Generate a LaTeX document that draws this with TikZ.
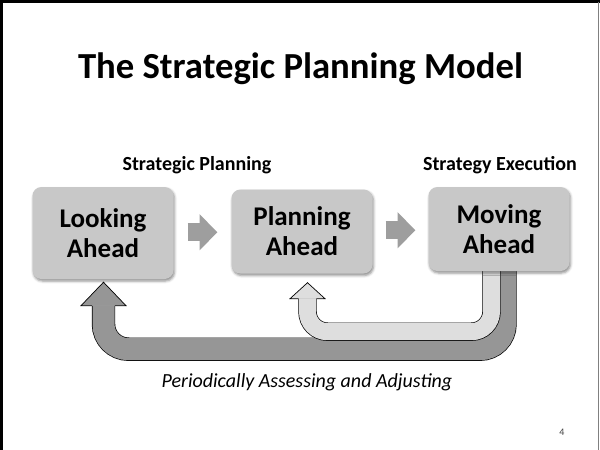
\documentclass[tikz,border=0pt]{standalone}
\usepackage{fontspec}
\setmainfont{Carlito}
\usetikzlibrary{arrows.meta,calc,backgrounds,shadows.blur}

\definecolor{boxgray}{RGB}{200,200,200}
\definecolor{stepgray}{RGB}{158,158,158}
\definecolor{loopdark}{RGB}{150,150,150}
\definecolor{looplight}{RGB}{222,222,222}

\tikzset{
	phase/.style={rounded corners=9pt, fill=boxgray, inner sep=0pt, align=center,
		minimum width=141pt, font=\fontsize{27}{30}\selectfont\bfseries,
		blur shadow={shadow xshift=1pt, shadow yshift=-2pt, shadow blur radius=2.5pt, shadow opacity=45}},
	stepflow/.style={line width=18pt, stepgray, -{Triangle[length=18pt, width=35pt]}},
	feedback/.style 2 args={double=#1, double distance=#2, line width=0.7pt},
	headline/.style={font=\fontsize{20}{24}\selectfont\bfseries, anchor=base},
}

\begin{document}
\begin{tikzpicture}[x=1pt, y=-1pt]
	\useasboundingbox (0,0) rectangle (600,450);
	\draw [line width=3pt] (1.5,450) -- (1.5,1.5) -- (600,1.5);
	\draw [gray, line width=1pt] (598.5,1.5) -- (598.5,450);

	\node [anchor=base, font=\fontsize{36.7}{44}\selectfont\bfseries] (title) at (300.5,78) {The Strategic Planning Model};

	\node [phase, minimum height=92pt] (look) at (103,233) {Looking\\Ahead};
	\node [phase, minimum height=84pt] (plan) at (302,231.5) {Planning\\Ahead};
	\node [phase, minimum height=84pt] (move) at (499,229) {Moving\\Ahead};

	\node [headline] (planlabel) at (197,170) {Strategic Planning};
	\node [headline] (execlabel) at (500,170) {Strategy Execution};

	\coordinate (s1) at ($(look.east)!0.5!(plan.west)$);
	\coordinate (s2) at ($(plan.east)!0.5!(move.west)$);
	\draw [stepflow] ([xshift=-15pt]s1) -- ([xshift=15pt]s1);
	\draw [stepflow] ([xshift=-15pt]s2) -- ([xshift=15pt]s2);

	\begin{scope}[on background layer]
		% long loop back to the first box
		\coordinate (dbase) at ([xshift=0.5pt, yshift=-26.5pt]look.south);
		\coordinate (dtip) at ([xshift=0.5pt, yshift=-3pt]look.south);
		\draw [feedback={loopdark}{22pt}, rounded corners=25pt]
			([xshift=6pt, yshift=8pt]move.south) -- ++(0,86) -| (dbase);
		\filldraw [fill=loopdark, line width=0.7pt] ([xshift=-11.35pt]dbase) -- ([xshift=-22.5pt]dbase)
			-- (dtip) -- ([xshift=22.5pt]dbase) -- ([xshift=11.35pt]dbase);

		% short loop back to the second box
		\coordinate (lbase) at ([xshift=5.5pt, yshift=-25pt]plan.south);
		\coordinate (ltip) at ([xshift=5.5pt, yshift=-9pt]plan.south);
		\draw [feedback={looplight}{17pt}, rounded corners=20pt]
			([xshift=-7.5pt, yshift=8pt]move.south) -- ++(0,68.5) -| (lbase);
		\filldraw [fill=looplight, line width=0.7pt] ([xshift=-8.85pt]lbase) -- ([xshift=-17.5pt]lbase)
			-- (ltip) -- ([xshift=17.5pt]lbase) -- ([xshift=8.85pt]lbase);
	\end{scope}

	\node [anchor=base, font=\fontsize{20}{24}\selectfont\itshape] (note) at (307,387) {Periodically Assessing and Adjusting};
	\node [font=\fontsize{10}{12}\selectfont, text=darkgray] (page) at (562,432) {4};
\end{tikzpicture}
\end{document}
